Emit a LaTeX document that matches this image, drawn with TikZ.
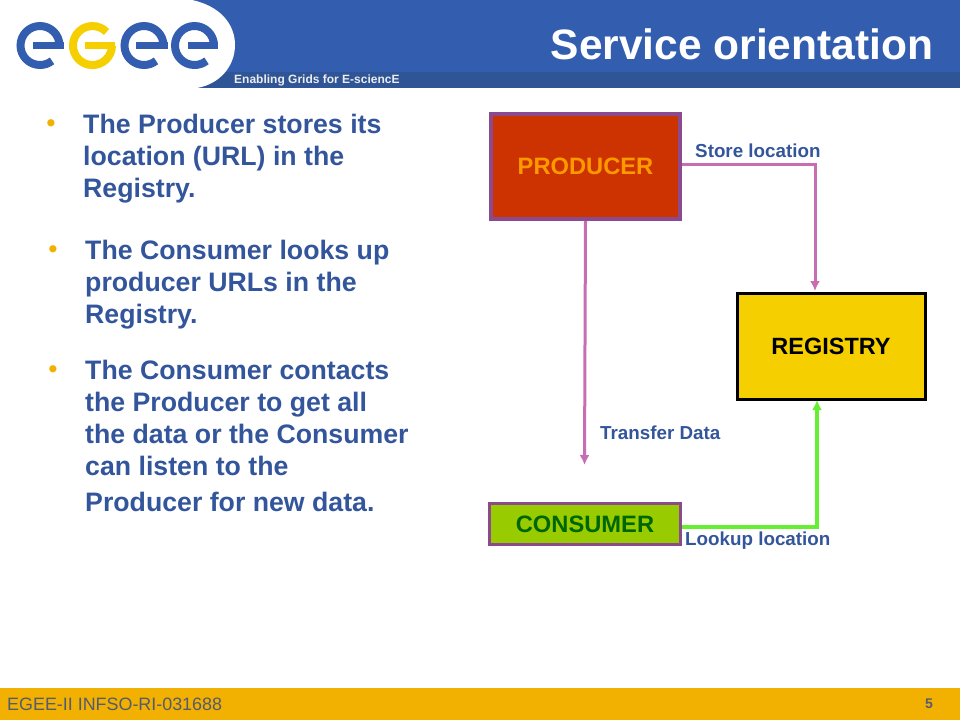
\documentclass[tikz,border=0pt]{standalone}
\usepackage{fontspec}
\usetikzlibrary{arrows.meta}
\setmainfont{Liberation Sans}
\definecolor{HeadBlue}{HTML}{335EAF}
\definecolor{StripBlue}{HTML}{2F5597}
\definecolor{TextBlue}{HTML}{33559B}
\definecolor{FootGold}{HTML}{F2B000}
\definecolor{FootText}{HTML}{555B70}
\definecolor{LogoGold}{HTML}{F5CF00}
\definecolor{BoxPurple}{HTML}{8C4A8E}
\definecolor{LinkPink}{HTML}{C76DB2}
\definecolor{LinkGreen}{HTML}{66EE33}
\definecolor{ProducerRed}{HTML}{CC3300}
\definecolor{ProducerText}{HTML}{FF9900}
\definecolor{ConsumerGreen}{HTML}{99CC00}
\definecolor{ConsumerText}{HTML}{006600}
\tikzset{
Title/.style={text=white, font=\fontsize{42.5}{48}\selectfont\bfseries, inner sep=0pt},
Tagline/.style={text=white!85!gray, font=\fontsize{12}{14}\selectfont\bfseries, inner sep=0pt, anchor=west},
Dot/.style={text=FootGold, font=\fontsize{25}{28}\selectfont\bfseries, inner sep=0pt},
Point/.style={text=TextBlue, font=\fontsize{26.7}{32}\selectfont\bfseries, align=left, inner sep=0pt, anchor=north west},
Producer/.style={draw=BoxPurple, fill=ProducerRed, line width=3.5pt, minimum width=189pt, minimum height=105pt, inner sep=0pt, text=ProducerText, font=\fontsize{23.7}{28}\selectfont\bfseries},
Registry/.style={draw=black, fill=LogoGold, line width=3pt, minimum width=188pt, minimum height=106pt, inner sep=0pt, text=black, font=\fontsize{23.5}{28}\selectfont\bfseries},
Consumer/.style={draw=BoxPurple, fill=ConsumerGreen, line width=3.5pt, minimum width=191pt, minimum height=41pt, inner sep=0pt, text=ConsumerText, font=\fontsize{23.7}{28}\selectfont\bfseries},
LinkLabel/.style={text=TextBlue, font=\fontsize{18.8}{22}\selectfont\bfseries, inner sep=0pt, anchor=west},
PinkLine/.style={-{Latex[length=10pt,width=10pt]}, draw=LinkPink, line width=3pt},
GreenLine/.style={-{Latex[length=10pt,width=10pt]}, draw=LinkGreen, line width=3.5pt},
LogoArc/.style={line width=8pt},
LogoBar/.style={line width=7.5pt},
FootLabel/.style={text=FootText, inner sep=0pt},
}

\begin{document}
\begin{tikzpicture}[x=1pt,y=-1pt]
	\useasboundingbox (0,0) rectangle (960,720);
	\fill[HeadBlue] (0,0) rectangle (960,88);
	\fill[StripBlue] (190,72) rectangle (960,88);
	\fill[FootGold] (0,688) rectangle (960,720);
	\fill[white] (0,0) -- (192,0) .. controls (220,6) and (235,24) .. (235,45) .. controls (235,66) and (220,84) .. (197,88) -- (0,88) -- cycle;

	% logo
	\foreach \cx/\barx in {40/33,144/136,194.5/188} {
		\draw[HeadBlue, LogoArc] (\cx+19.5,45.5) arc[start angle=0, end angle=308, x radius=19.5pt, y radius=19.5pt];
		\draw[HeadBlue, LogoBar] (\barx,45.5) -- (\cx+23.5,45.5);
	}
	\draw[LogoGold, LogoArc] (106.5,32) arc[start angle=44, end angle=360, x radius=19.5pt, y radius=19.5pt];
	\draw[LogoGold, LogoBar] (85,45.5) -- (115,45.5);

	\node[Title] (title) at (742,44) {Service orientation};
	\node[Tagline] (tagline) at (234,80) {Enabling Grids for E-sciencE};

	\node[Dot] (dot1) at (51,126) {•};
	\node[Dot] (dot2) at (53,252) {•};
	\node[Dot] (dot3) at (53,372) {•};
	\node[Point] (point1) at (83,114) {The Producer stores its\\location (URL) in the\\Registry.};
	\node[Point] (point2) at (85,240) {The Consumer looks up\\producer URLs in the\\Registry.};
	\node[Point] (point3) at (85,360) {The Consumer contacts\\the Producer to get all\\the data or the Consumer\\can listen to the\\[4pt]Producer for new data.};

	\node[Producer] (producer) at (585.5,166.5) {PRODUCER};
	\node[Registry] (registry) at (831,346) {REGISTRY};
	\node[Consumer] (consumer) at (585,524) {CONSUMER};

	\coordinate (storeEnd) at (815,291);
	\coordinate (transferEnd) at (584.5,465);
	\coordinate (lookupEnd) at (817,400);

	\draw[PinkLine] (producer.east |- 0,164) -| (storeEnd);
	\draw[PinkLine] (producer.south) -- (transferEnd);
	\draw[GreenLine] (consumer.east |- 0,527) -| (lookupEnd);

	\node[LinkLabel] (storeLabel) at (695,151) {Store location};
	\node[LinkLabel] (transferLabel) at (600,433) {Transfer Data};
	\node[LinkLabel] (lookupLabel) at (685,541) {Lookup location};

	\node[FootLabel, font=\fontsize{17.9}{20}\selectfont, anchor=west] (footer) at (7,704) {EGEE-II INFSO-RI-031688};
	\node[FootLabel, font=\fontsize{14}{16}\selectfont\bfseries] (pageNo) at (929,704) {5};
\end{tikzpicture}
\end{document}
